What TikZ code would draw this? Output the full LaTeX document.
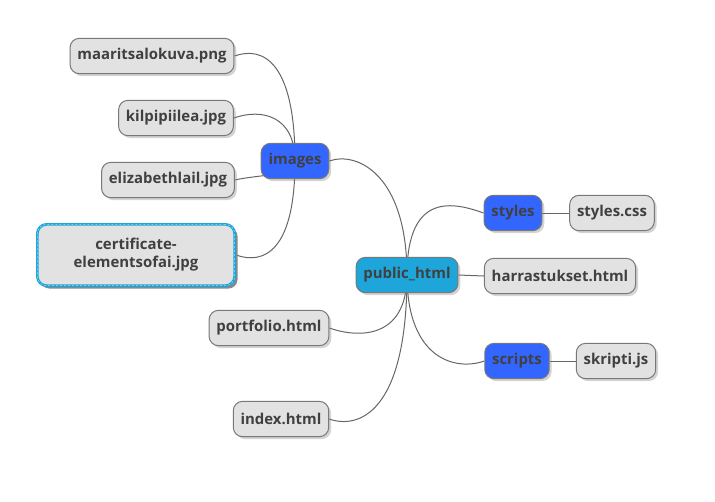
\documentclass[tikz,border=0pt]{standalone}
\usepackage{fontspec}
\setmainfont{Open Sans}
\usetikzlibrary{shadows,backgrounds}

\definecolor{leafgray}{RGB}{226,226,226}
\definecolor{boxborder}{RGB}{120,120,120}
\definecolor{textgray}{RGB}{64,64,64}
\definecolor{branchblue}{RGB}{51,102,255}
\definecolor{rootcyan}{RGB}{30,166,219}
\definecolor{linkgray}{RGB}{102,102,102}

\tikzset{every picture/.style={line width=0.75pt}}
\tikzset{
  mapnode/.style={draw=boxborder, rounded corners=7pt, minimum height=26.5pt, inner xsep=5.5pt,
    font=\fontsize{11.2}{13.5}\selectfont\bfseries, text=textgray,
    drop shadow={shadow xshift=1.8pt,shadow yshift=-1.8pt,opacity=0.35}},
  leaf/.style={mapnode, fill=leafgray},
  branch/.style={mapnode, fill=branchblue},
  root/.style={mapnode, fill=rootcyan},
  picked/.style={leaf, draw=rootcyan, line width=2pt, align=center, minimum width=148pt, minimum height=46pt,
    drop shadow={shadow xshift=2.2pt,shadow yshift=-2.2pt,opacity=0.9},
    postaction={draw=white!60!rootcyan, line width=0.4pt, dash pattern=on 1.5pt off 1.5pt}},
  link/.style={draw=linkgray, line width=0.75pt},
}

\begin{document}
\begin{tikzpicture}[x=0.75pt,y=0.75pt,yscale=-1,xscale=1]
\useasboundingbox (0,0) rectangle (715,501);

% root
\node[root] (public) at (407,275) {public\_html};

% left side
\node[branch] (images) at (295,161) {images};
\node[leaf] (maar) at (152,56) {maaritsalokuva.png};
\node[leaf] (kilp) at (176,118) {kilpipiilea.jpg};
\node[leaf] (eliz) at (168,180) {elizabethlail.jpg};
\node[picked] (cert) at (136,255) {certificate-\\elementsofai.jpg};
\node[leaf] (portfolio) at (269,328) {portfolio.html};
\node[leaf] (index) at (281,419) {index.html};

% right side
\node[branch] (styles) at (513,213) {styles};
\node[leaf] (stylescss) at (612,213) {styles.css};
\node[leaf] (harr) at (560,276) {harrastukset.html};
\node[branch] (scripts) at (517,361) {scripts};
\node[leaf] (skripti) at (616,361) {skripti.js};

% links
\begin{scope}[on background layer]
\draw[link] (images.center) .. controls +(0,-100) and +(28,-10) .. (maar.east);
\draw[link] (images.center) .. controls +(0,-45) and +(28,-10) .. (kilp.east);
\draw[link] (images.center) .. controls +(0,15) and +(20,-5) .. (eliz.east);
\draw[link] (images.center) .. controls +(0,90) and +(28,10) .. (cert.east);
\draw[link] (public.center) .. controls +(0,-100) and +(28,-10) .. (images.east);
\draw[link] (public.center) .. controls +(0,65) and +(28,10) .. (portfolio.east);
\draw[link] (public.center) .. controls +(0,140) and +(28,10) .. (index.east);
\draw[link] (public.center) .. controls +(0,-85) and +(-28,-10) .. (styles.west);
\draw[link] (public.east) -- (harr.west);
\draw[link] (public.center) .. controls +(0,85) and +(-28,10) .. (scripts.west);
\draw[link] (styles.east) -- (stylescss.west);
\draw[link] (scripts.east) -- (skripti.west);
\end{scope}

\end{tikzpicture}
\end{document}
